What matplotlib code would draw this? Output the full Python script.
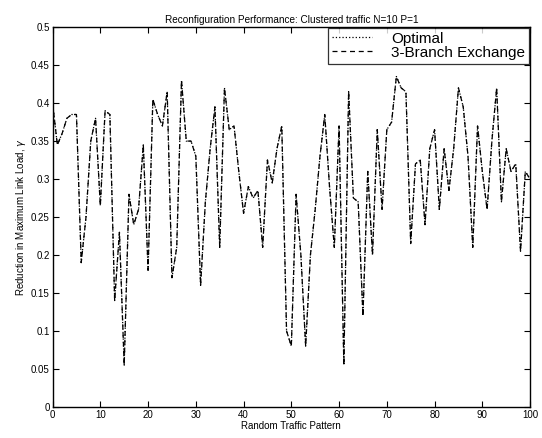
import matplotlib
matplotlib.use('Agg')
import matplotlib.pyplot as plt
import numpy as np

plt.rcParams['font.family'] = ['Liberation Sans', 'DejaVu Sans']

pattern = np.arange(0, 101)
branch_exchange = [
    0.40, 0.345, 0.36, 0.38, 0.385, 0.385, 0.19, 0.25, 0.35, 0.38,
    0.265, 0.39, 0.385, 0.14, 0.23, 0.055, 0.28, 0.24, 0.26, 0.345,
    0.18, 0.405, 0.385, 0.37, 0.415, 0.17, 0.21, 0.43, 0.35, 0.35,
    0.33, 0.16, 0.27, 0.34, 0.395, 0.21, 0.42, 0.365, 0.37, 0.31,
    0.255, 0.29, 0.275, 0.285, 0.21, 0.325, 0.295, 0.34, 0.37, 0.10,
    0.08, 0.28, 0.20, 0.08, 0.20, 0.26, 0.33, 0.385, 0.29, 0.21,
    0.37, 0.055, 0.415, 0.275, 0.27, 0.12, 0.31, 0.20, 0.365, 0.26,
    0.365, 0.375, 0.435, 0.42, 0.415, 0.215, 0.32, 0.325, 0.24, 0.34,
    0.365, 0.26, 0.34, 0.285, 0.34, 0.42, 0.395, 0.33, 0.21, 0.37,
    0.31, 0.26, 0.35, 0.42, 0.27, 0.34, 0.31, 0.32, 0.205, 0.31,
    0.30,
]
# the optimal curve sits right on top of the 3-branch one in the picture
optimal = list(branch_exchange)

fig = plt.figure(figsize=(5.42, 4.38), dpi=100)
ax = fig.add_axes([0.097, 0.071, 0.881, 0.867])

ax.plot(pattern, optimal, ':', color='black', linewidth=0.9, label='Optimal')
ax.plot(pattern, branch_exchange, '--', color='black', linewidth=0.9,
        dashes=(4, 3), label='3-Branch Exchange')

ax.set_xlim(0, 100)
ax.set_ylim(0, 0.5)
ax.set_xticks(np.arange(0, 101, 10))
ax.set_yticks(np.arange(0, 0.51, 0.05))
ax.set_yticklabels(['0', '0.05', '0.1', '0.15', '0.2', '0.25', '0.3',
                    '0.35', '0.4', '0.45', '0.5'])
ax.tick_params(direction='in', top=True, right=True, labelsize=7,
               length=4, width=0.8, pad=2)
for spine in ax.spines.values():
    spine.set_linewidth(1.0)

ax.set_title('Reconfiguration Performance: Clustered traffic N=10 P=1',
             fontsize=7.2, pad=3)
ax.set_xlabel('Random Traffic Pattern', fontsize=7, labelpad=1)
ax.set_ylabel('Reduction in Maximum Link Load, $\\gamma$', fontsize=7,
              labelpad=2)

leg = ax.legend(loc='upper right', fontsize=11, frameon=True, fancybox=False,
                borderaxespad=0.05, handlelength=2.6, handletextpad=1.3,
                labelspacing=0.0, borderpad=0.25)
leg.get_frame().set_edgecolor('black')
leg.get_frame().set_linewidth(0.9)

fig.savefig('out.png', dpi=100)
